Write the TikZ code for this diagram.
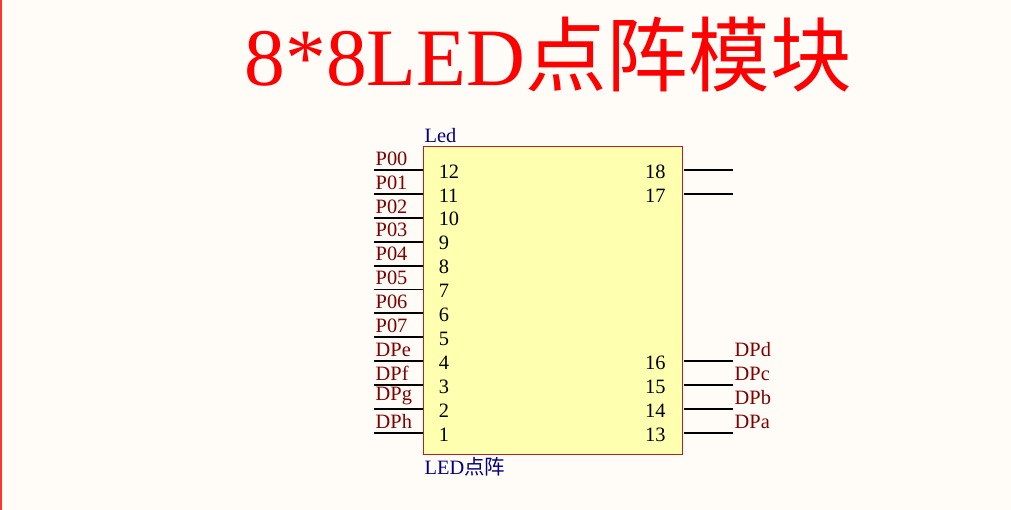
\documentclass[tikz,border=0pt]{standalone}
\usepackage{fontspec}
\setmainfont{Liberation Serif}
\newfontfamily\cjk{Noto Sans CJK SC}
\definecolor{bgcream}{HTML}{FFFCF8}
\definecolor{pinred}{HTML}{800000}
\definecolor{desblue}{HTML}{000080}
\definecolor{bodyyel}{HTML}{FFFFB0}
\definecolor{bodyred}{HTML}{B22222}
\begin{document}
\begin{tikzpicture}[x=0.025cm,y=-0.025cm,
    pinline/.style={line width=1.3pt, black},
    pinname/.style={anchor=south west, inner sep=1pt, yshift=2pt, font=\fontsize{14.5}{14.5}\selectfont, text=pinred},
    pinnum/.style={inner sep=0pt, font=\fontsize{14.5}{14.5}\selectfont}]
% Frame
\fill[bgcream] (0,0) rectangle (1011,510);
\useasboundingbox (0,0) rectangle (1011,510);
\draw[red!80, line width=0.8pt] (1,0) -- (1,510);

% Title
\node[text=red, font=\fontsize{58}{58}\selectfont] (title) at (548,55) {8*8LED{\cjk 点阵模块}};

% Body
\draw[bodyred, fill=bodyyel, line width=0.6pt] (423,146) rectangle (682,454);
\coordinate (body) at (423,146);
\node[anchor=south west, inner sep=1pt, text=desblue, font=\fontsize{14.5}{14.5}\selectfont] (des) at (423,144) {Led};
\node[anchor=north west, inner sep=1pt, text=desblue, font=\fontsize{14.5}{14.5}\selectfont] (cmt) at (423,456) {LED{\cjk 点阵}};

% Left pins
\foreach \n/\lab [count=\i from 0] in {12/P00,11/P01,10/P02,9/P03,8/P04,7/P05,6/P06,5/P07,4/DPe,3/DPf,2/DPg,1/DPh}{
  \coordinate (L\n) at (423,{170+23.9*\i});
  \draw[pinline] (L\n) -- ++(-49,0) coordinate (LE\n);
  \node[pinname] (LN\n) at (LE\n) {\lab};
  \node[pinnum, anchor=west] (LP\n) at ([xshift=11,yshift=-1]L\n) {\n};
}

% Right pins
\foreach \n/\lab/\y in {18//170,17//194,16/DPd/361,15/DPc/385,14/DPb/409,13/DPa/433}{
  \coordinate (R\n) at (684,\y);
  \draw[pinline] (R\n) -- ++(49,0) coordinate (RE\n);
  \node[pinname] (RN\n) at (RE\n) {\lab};
  \node[pinnum, anchor=east] (RP\n) at ([xshift=-13,yshift=-1]R\n) {\n};
}
\end{tikzpicture}
\end{document}
